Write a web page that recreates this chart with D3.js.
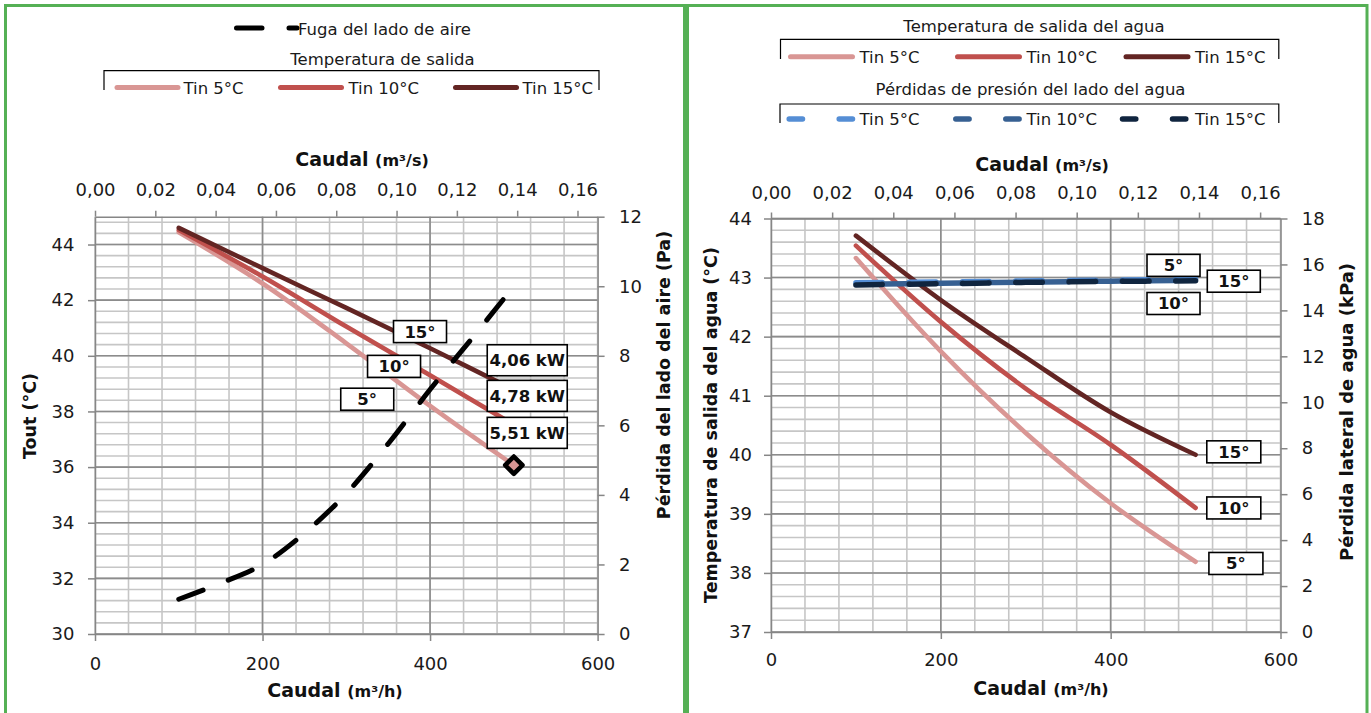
<!DOCTYPE html>
<html><head><meta charset="utf-8">
<script src="https://cdn.jsdelivr.net/npm/d3@7"></script>
<style>
html,body{margin:0;padding:0;background:#fff;}
svg{display:block;font-family:"DejaVu Sans",sans-serif;}
</style></head><body>
<svg id="c" width="1371" height="713"></svg>
<script>
// ---------------- DATA ----------------
// Left chart: air side
const flowAir = [100, 200, 300, 400, 500];                 // m3/h
const toutTin5  = [44.44, 42.60, 40.45, 38.20, 36.07];     // °C
const toutTin10 = [44.52, 42.85, 41.05, 39.30, 37.52];
const toutTin15 = [44.60, 43.15, 41.72, 40.27, 38.78];
const flowLeak = [100, 150, 200, 250, 300, 350, 400, 450, 500];
const airLeakPa = [1.00, 1.46, 2.00, 2.90, 4.04, 5.47, 7.03, 8.50, 10.0];
const powerLabels = ["4,06 kW", "4,78 kW", "5,51 kW"];
const degLabels = ["15°", "10°", "5°"];

// Right chart: water side
const flowWater = [100, 200, 300, 400, 500];
const twTin5  = [43.33, 41.75, 40.37, 39.18, 38.19];
const twTin10 = [43.54, 42.25, 41.12, 40.17, 39.10];
const twTin15 = [43.71, 42.62, 41.65, 40.72, 40.00];
const dpTin5  = [15.20, 15.24, 15.28, 15.32, 15.36];       // kPa
const dpTin10 = [15.13, 15.18, 15.23, 15.27, 15.31];
const dpTin15 = [15.11, 15.16, 15.22, 15.26, 15.29];

// Tick labels
const bottomTicks = [0, 200, 400, 600];
const topTicks = [0, 0.02, 0.04, 0.06, 0.08, 0.10, 0.12, 0.14, 0.16];
const leftTicksL = [30, 32, 34, 36, 38, 40, 42, 44];
const rightTicksL = [0, 2, 4, 6, 8, 10, 12];
const leftTicksR = [37, 38, 39, 40, 41, 42, 43, 44];
const rightTicksR = [0, 2, 4, 6, 8, 10, 12, 14, 16, 18];

// ---------------- STYLE ----------------
const C5 = "#D99694", C10 = "#C0504D", C15 = "#632523";
const B5 = "#558ED5", B10 = "#376092", B15 = "#10253F";
const GREEN = "#55b055";
const AX = "#868686", GMIN = "#c6c6c6", GMAJ = "#8c8c8c";
const TXT = "#1a1a1a";
const FONT = "'DejaVu Sans', sans-serif";
const fmtInt = d3.format("d");
const fmtComma = d => d.toFixed(2).replace(".", ",");

const svg = d3.select("#c");
svg.append("rect").attr("width", 1371).attr("height", 713).attr("fill", "#fff");

// panel frames
svg.append("rect").attr("x", 5.5).attr("y", 5.5).attr("width", 679).attr("height", 740)
  .attr("fill", "none").attr("stroke", GREEN).attr("stroke-width", 3);
svg.append("rect").attr("x", 687.5).attr("y", 5.5).attr("width", 679.5).attr("height", 740)
  .attr("fill", "none").attr("stroke", GREEN).attr("stroke-width", 3);

function styleAxis(g) {
  g.attr("font-family", FONT).attr("font-size", 18);
  g.select(".domain").attr("stroke", AX).attr("stroke-width", 1.5);
  g.selectAll(".tick line").attr("stroke", AX).attr("stroke-width", 1.5);
  g.selectAll(".tick text").attr("fill", TXT);
}

function drawGrid(g, x, y, hMinor, hMajor, vMinor, vMajor) {
  const [x0, x1] = x.range(), [y0, y1] = y.range();
  g.selectAll(null).data(hMinor).join("line")
    .attr("x1", x0).attr("x2", x1).attr("y1", d => y(d)).attr("y2", d => y(d))
    .attr("stroke", GMIN).attr("stroke-width", 1.6);
  g.selectAll(null).data(vMinor).join("line")
    .attr("y1", y0).attr("y2", y1).attr("x1", d => x(d)).attr("x2", d => x(d))
    .attr("stroke", GMIN).attr("stroke-width", 1.6);
  g.selectAll(null).data(hMajor).join("line")
    .attr("x1", x0).attr("x2", x1).attr("y1", d => y(d)).attr("y2", d => y(d))
    .attr("stroke", GMAJ).attr("stroke-width", 1.6);
  g.selectAll(null).data(vMajor).join("line")
    .attr("y1", y0).attr("y2", y1).attr("x1", d => x(d)).attr("x2", d => x(d))
    .attr("stroke", GMAJ).attr("stroke-width", 1.6);
}

function labelBox(g, cx, cy, w, h, text, fs) {
  g.append("rect").attr("x", cx - w / 2).attr("y", cy - h / 2).attr("width", w).attr("height", h)
    .attr("fill", "#fff").attr("stroke", "#000").attr("stroke-width", 1.6);
  g.append("text").attr("x", cx).attr("y", cy).attr("dy", "0.36em").attr("text-anchor", "middle")
    .attr("font-family", FONT).attr("font-weight", "bold").attr("font-size", fs).attr("fill", "#111")
    .text(text);
}

function axisTitle(x, y, main, sub, rot, fs) {
  const t = svg.append("text").attr("font-family", FONT).attr("font-weight", "bold").attr("fill", "#111")
    .attr("text-anchor", "middle");
  if (rot) {
    t.attr("transform", `translate(${x},${y}) rotate(-90)`).attr("dy", "0.36em").attr("font-size", fs || 17.5);
  } else {
    t.attr("x", x).attr("y", y).attr("font-size", 19);
  }
  t.append("tspan").text(main);
  if (sub) t.append("tspan").attr("font-size", 16).text(sub);
}

const zip = (xs, ys) => xs.map((v, i) => [v, ys[i]]);

// =============== LEFT CHART ===============
const xL = d3.scaleLinear().domain([0, 600]).range([95, 597.6]);
const xLs = d3.scaleLinear().domain([0, 600 / 3600]).range([95, 597.6]);
const yL = d3.scaleLinear().domain([30, 45]).range([634, 216.7]);
const yL2 = d3.scaleLinear().domain([0, 12]).range([634, 216.7]);

const gL = svg.append("g");
drawGrid(gL, xL, yL,
  d3.range(0, 38).map(i => 30 + i * 0.4), leftTicksL,
  d3.range(0, 16).map(i => i * 40), [200, 400]);

gL.append("g").attr("transform", "translate(0,634)")
  .call(d3.axisBottom(xL).tickValues(bottomTicks).tickFormat(fmtInt).tickSize(7).tickSizeOuter(0).tickPadding(16)).call(styleAxis);
gL.append("g").attr("transform", "translate(0,216.7)")
  .call(d3.axisTop(xLs).tickValues(topTicks).tickFormat(fmtComma).tickSize(6).tickSizeOuter(0).tickPadding(14.5)).call(styleAxis);
gL.append("g").attr("transform", "translate(95,0)")
  .call(d3.axisLeft(yL).tickValues(leftTicksL).tickFormat(fmtInt).tickSize(7).tickSizeOuter(0).tickPadding(13.6)).call(styleAxis);
gL.append("g").attr("transform", "translate(597.6,0)")
  .call(d3.axisRight(yL2).tickValues(rightTicksL).tickFormat(fmtInt).tickSize(7).tickSizeOuter(0).tickPadding(14.4)).call(styleAxis);

const lineL = d3.line().x(d => xL(d[0])).y(d => yL(d[1])).curve(d3.curveCatmullRom.alpha(0.5));
const lineL2 = d3.line().x(d => xL(d[0])).y(d => yL2(d[1])).curve(d3.curveCatmullRom.alpha(0.5));
[[toutTin5, C5], [toutTin10, C10], [toutTin15, C15]].forEach(([vals, col]) => {
  gL.append("path").attr("d", lineL(zip(flowAir, vals))).attr("fill", "none")
    .attr("stroke", col).attr("stroke-width", 4.6).attr("stroke-linecap", "round");
});
gL.append("path").attr("d", lineL2(zip(flowLeak, airLeakPa))).attr("fill", "none")
  .attr("stroke", "#000").attr("stroke-width", 5).attr("stroke-linecap", "round")
  .attr("stroke-dasharray", "26,27");
// end marker on Tin 5°C
gL.append("path").attr("d", d3.symbol(d3.symbolSquare, 150)())
  .attr("transform", `translate(${xL(flowAir[4])},${yL(toutTin5[4])}) rotate(45)`)
  .attr("fill", C5).attr("stroke", "#000").attr("stroke-width", 4.5).attr("stroke-linejoin", "round");

// data labels
const degPosL = [[388, 40.87], [357, 39.62], [325, 38.44]];
degLabels.forEach((t, i) => labelBox(gL, xL(degPosL[i][0]), yL(degPosL[i][1]), 53, 22, t, 16.5));
const kwPos = [[516, 39.84], [516, 38.56], [516, 37.23]];
powerLabels.forEach((t, i) => labelBox(gL, xL(kwPos[i][0]), yL(kwPos[i][1]), 80, 31, t, 16.5));

// titles
axisTitle(362, 166, "Caudal ", "(m³/s)", false);
axisTitle(335, 697, "Caudal ", "(m³/h)", false);
axisTitle(30, 416, "Tout (°C)", null, true);
axisTitle(664, 375, "Pérdida del lado del aire (Pa)", null, true);

// legend (left)
const legL = svg.append("g").attr("font-family", FONT).attr("font-size", 16.5).attr("fill", TXT);
legL.append("line").attr("x1", 236.5).attr("x2", 297).attr("y1", 28).attr("y2", 28)
  .attr("stroke", "#000").attr("stroke-width", 5).attr("stroke-linecap", "round").attr("stroke-dasharray", "25.5,27");
legL.append("text").attr("x", 298).attr("y", 35).text("Fuga del lado de aire");
legL.append("text").attr("x", 382.5).attr("y", 65).attr("text-anchor", "middle").text("Temperatura de salida");
legL.append("path").attr("d", "M104,90V70.7H599V90").attr("fill", "none").attr("stroke", "#000").attr("stroke-width", 1.2);
[[117, C5, "Tin 5°C", 183.5], [280.5, C10, "Tin 10°C", 348.5], [455.5, C15, "Tin 15°C", 522.5]].forEach(([x, c, t, tx]) => {
  legL.append("line").attr("x1", x).attr("x2", x + 61).attr("y1", 87.5).attr("y2", 87.5)
    .attr("stroke", c).attr("stroke-width", 5).attr("stroke-linecap", "round");
  legL.append("text").attr("x", tx).attr("y", 94).text(t);
});

// =============== RIGHT CHART ===============
const xR = d3.scaleLinear().domain([0, 600]).range([771, 1280.5]);
const xRs = d3.scaleLinear().domain([0, 600 / 3600]).range([771, 1280.5]);
const yR = d3.scaleLinear().domain([37, 44]).range([632, 218.5]);
const yR2 = d3.scaleLinear().domain([0, 18]).range([632, 218.5]);

const gR = svg.append("g");
drawGrid(gR, xR, yR,
  d3.range(0, 36).map(i => 37 + i * 0.2), leftTicksR,
  d3.range(0, 16).map(i => i * 40), [200, 400]);

gR.append("g").attr("transform", "translate(0,632)")
  .call(d3.axisBottom(xR).tickValues(bottomTicks).tickFormat(fmtInt).tickSize(7).tickSizeOuter(0).tickPadding(14.2)).call(styleAxis);
gR.append("g").attr("transform", "translate(0,218.5)")
  .call(d3.axisTop(xRs).tickValues(topTicks).tickFormat(fmtComma).tickSize(6).tickSizeOuter(0).tickPadding(13.5)).call(styleAxis);
gR.append("g").attr("transform", "translate(771,0)")
  .call(d3.axisLeft(yR).tickValues(leftTicksR).tickFormat(fmtInt).tickSize(7).tickSizeOuter(0).tickPadding(12)).call(styleAxis);
gR.append("g").attr("transform", "translate(1280.5,0)")
  .call(d3.axisRight(yR2).tickValues(rightTicksR).tickFormat(fmtInt).tickSize(7).tickSizeOuter(0).tickPadding(14.2)).call(styleAxis);

const lineR = d3.line().x(d => xR(d[0])).y(d => yR(d[1])).curve(d3.curveCatmullRom.alpha(0.5));
const lineR2 = d3.line().x(d => xR(d[0])).y(d => yR2(d[1])).curve(d3.curveCatmullRom.alpha(0.5));
[[twTin5, C5], [twTin10, C10], [twTin15, C15]].forEach(([vals, col]) => {
  gR.append("path").attr("d", lineR(zip(flowWater, vals))).attr("fill", "none")
    .attr("stroke", col).attr("stroke-width", 4.6).attr("stroke-linecap", "round");
});
[[dpTin5, B5, 0], [dpTin10, B10, 26.5], [dpTin15, B15, 0]].forEach(([vals, col, off]) => {
  gR.append("path").attr("d", lineR2(zip(flowWater, vals))).attr("fill", "none")
    .attr("stroke", col).attr("stroke-width", 5.5).attr("stroke-linecap", "round")
    .attr("stroke-dasharray", "26.5,26.8").attr("stroke-dashoffset", off);
});

const tempLabPos = [[545, 40.05], [545, 39.10], [547.5, 38.16]];
["15°", "10°", "5°"].forEach((t, i) => labelBox(gR, xR(tempLabPos[i][0]), yR(tempLabPos[i][1]), 54, 22, t, 16.5));
const presLabPos = [[474, 15.96], [545, 15.27], [474, 14.30]];
["5°", "15°", "10°"].forEach((t, i) => labelBox(gR, xR(presLabPos[i][0]), yR2(presLabPos[i][1]), 53, 22, t, 16.5));

axisTitle(1042, 171, "Caudal ", "(m³/s)", false);
axisTitle(1041, 695, "Caudal ", "(m³/h)", false);
axisTitle(711, 425, "Temperatura de salida del agua (°C)", null, true, 17.5);
axisTitle(1347, 412, "Pérdida lateral de agua (kPa)", null, true, 18);

// legend (right)
const legR = svg.append("g").attr("font-family", FONT).attr("font-size", 16.5).attr("fill", TXT);
legR.append("text").attr("x", 1034).attr("y", 32).attr("text-anchor", "middle").text("Temperatura de salida del agua");
legR.append("path").attr("d", "M780.5,59V39.3H1278.8V59").attr("fill", "none").attr("stroke", "#000").attr("stroke-width", 1.2);
[[790.5, C5, "Tin 5°C", 859.5], [957.5, C10, "Tin 10°C", 1026.5], [1126, C15, "Tin 15°C", 1195]].forEach(([x, c, t, tx]) => {
  legR.append("line").attr("x1", x).attr("x2", x + 62).attr("y1", 56.7).attr("y2", 56.7)
    .attr("stroke", c).attr("stroke-width", 5).attr("stroke-linecap", "round");
  legR.append("text").attr("x", tx).attr("y", 63).text(t);
});
legR.append("text").attr("x", 1030.5).attr("y", 95).attr("text-anchor", "middle").text("Pérdidas de presión del lado del agua");
legR.append("path").attr("d", "M780,123V104H1278.8V123").attr("fill", "none").attr("stroke", "#000").attr("stroke-width", 1.2);
[[789.2, B5, "Tin 5°C", 859.5], [955.8, B10, "Tin 10°C", 1026.5], [1122.5, B15, "Tin 15°C", 1195]].forEach(([x, c, t, tx]) => {
  legR.append("line").attr("x1", x).attr("x2", x + 63.3).attr("y1", 119).attr("y2", 119)
    .attr("stroke", c).attr("stroke-width", 5.5).attr("stroke-linecap", "round").attr("stroke-dasharray", "13.3,36.7");
  legR.append("text").attr("x", tx).attr("y", 125).text(t);
});
</script>
</body></html>
